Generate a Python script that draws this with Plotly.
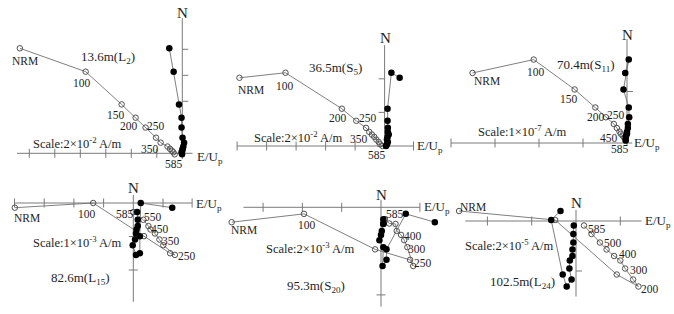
import plotly.graph_objects as go

W, H = 674, 314
FONT = "'Times New Roman', 'Liberation Serif', 'DejaVu Serif', serif"

# ---------------- data (values in scale-tick units) ----------------
# Panel 1: 13.6 m (L2)
L2_steps = ["NRM", "100", "150", "200", "250", "300", "350", "400", "450", "500", "550", "585"]
L2_east  = [-6.37, -3.79, -2.38, -1.83, -1.44, -1.03, -0.85, -0.58, -0.48, -0.41, -0.35, -0.30]
L2_north = [4.04, 3.14, 1.88, 1.37, 0.99, 0.60, 0.41, 0.26, 0.17, 0.10, 0.04, -0.04]
L2_up    = [-0.51, -0.34, -0.13, -0.03, -0.03, 0.01, 0.07, 0.04, 0.01, 0.00, -0.03, -0.01]

# Panel 2: 36.5 m (S5)
S5_steps = ["NRM", "100", "200", "250", "300", "350", "400", "450", "500", "530", "560", "585"]
S5_east  = [-4.92, -3.36, -1.45, -0.96, -0.63, -0.52, -0.43, -0.35, -0.28, -0.20, -0.15, -0.07]
S5_north = [2.03, 2.18, 1.11, 0.75, 0.54, 0.42, 0.34, 0.27, 0.19, 0.12, 0.05, 0.00]
S5_up    = [0.51, 0.23, 0.10, 0.10, 0.11, 0.11, 0.14, 0.10, 0.08, 0.11, 0.08, 0.05]

# Panel 3: 70.4 m (S11)
S11_steps = ["NRM", "100", "150", "200", "250", "300", "350", "400", "450", "500", "550", "585"]
S11_east  = [-3.51, -2.12, -1.19, -0.72, -0.48, -0.30, -0.23, -0.17, -0.14, -0.10, -0.06, -0.03]
S11_north = [1.36, 1.62, 1.04, 0.69, 0.50, 0.37, 0.29, 0.22, 0.18, 0.14, 0.10, 0.05]
S11_up    = [-0.04, 0.04, -0.08, 0.04, 0.05, 0.02, 0.02, 0.00, 0.00, -0.02, -0.03, -0.03]

# Panel 4: 82.6 m (L15)
L15_steps = ["NRM", "100", "150", "200", "250", "300", "350", "400", "450", "500", "550", "585"]
L15_east  = [-3.99, -1.35, 0.36, 1.24, 1.40, 1.01, 0.88, 0.73, 0.58, 0.51, 0.34, 0.00]
L15_north = [-0.14, 0.00, -0.99, -1.50, -1.55, -1.26, -1.09, -0.91, -0.79, -0.69, -0.50, -0.27]
L15_up    = [1.31, 0.25, 0.22, 0.22, 0.09, -0.02, 0.06, 0.09, 0.11, 0.15, 0.15, 0.13]

# Panel 5: 95.3 m (S20)
S20_steps = ["NRM", "100", "150", "200", "250", "300", "350", "400", "450", "500", "550", "585"]
S20_east  = [-3.80, -1.96, -0.15, 0.74, 0.82, 0.67, 0.59, 0.51, 0.40, 0.37, 0.21, 0.10]
S20_north = [-0.34, -0.15, -0.96, -1.20, -1.34, -0.91, -0.75, -0.63, -0.54, -0.38, -0.37, -0.27]
S20_up    = [1.37, 0.63, 0.14, 0.14, 0.04, 0.06, -0.04, 0.00, 0.02, 0.06, 0.06, 0.06]

# Panel 6: 102.5 m (L24)
L24_steps = ["NRM", "100", "150", "200", "250", "300", "350", "400", "450", "500", "550", "585"]
L24_east  = [-2.64, -0.47, 0.92, 1.41, 1.29, 1.11, 1.00, 0.86, 0.69, 0.54, 0.35, 0.18]
L24_north = [0.20, 0.02, -1.07, -1.31, -1.17, -0.95, -0.79, -0.70, -0.57, -0.43, -0.26, -0.09]
L24_up    = [-0.35, -0.56, -0.30, -0.21, -0.10, -0.15, -0.14, -0.08, -0.08, -0.06, -0.06, -0.05]

titles = ["13.6m(L<sub>2</sub>)", "36.5m(S<sub>5</sub>)", "70.4m(S<sub>11</sub>)",
          "82.6m(L<sub>15</sub>)", "95.3m(S<sub>20</sub>)", "102.5m(L<sub>24</sub>)"]
scales = ["Scale:2×10<sup>-2</sup> A/m", "Scale:2×10<sup>-2</sup> A/m", "Scale:1×10<sup>-7</sup> A/m",
          "Scale:1×10<sup>-3</sup> A/m", "Scale:2×10<sup>-3</sup> A/m", "Scale:2×10<sup>-5</sup> A/m"]

data = [
    (L2_steps, L2_east, L2_north, L2_up),
    (S5_steps, S5_east, S5_north, S5_up),
    (S11_steps, S11_east, S11_north, S11_up),
    (L15_steps, L15_east, L15_north, L15_up),
    (S20_steps, S20_east, S20_north, S20_up),
    (L24_steps, L24_east, L24_north, L24_up),
]

# ---------------- layout geometry (pixels) ----------------
SPECS = [
    dict(box=(0, 0, 225, 170), origin=(182.3, 153.3), sx=25.5, sy=26.0,
         hline=(-6.48, 0.40), hticks=[-6, -5, -4, -3, -2, -1], endbar=False,
         vline=(-0.22, 5.2), vticks=[2, 3, 4], vside="right",
         N=(182.3, 13), EU=(195, 157), title=(107.5, 58), scale=(77, 143),
         labels={"NRM": (5, 13), "100": (-4, 11), "150": (-6, 11), "200": (-7, 8),
                 "250": (10, -2), "350": (-11, 6), "585": (-1, 10)}),
    dict(box=(225, 0, 445, 170), origin=(384.6, 146.0), sx=29.5, sy=33.6,
         hline=(-5.0, 0.98), hticks=[-5, -4, -3, -2, -1], endbar=True,
         vline=(-0.08, 3.0), vticks=[1, 2], vside="left",
         N=(385, 37.5), EU=(415, 146), title=(335, 68.3), scale=(298, 137.3),
         labels={"NRM": (12, 12), "100": (0, 13), "200": (-4, 9), "250": (12, -3),
                 "350": (-10, 7), "585": (-6, 9)}),
    dict(box=(445, 0, 674, 170), origin=(627.0, 143.0), sx=44.0, sy=51.5,
         hline=(-4.0, 0.12), hticks=[-4, -3, -2, -1], endbar=False,
         vline=(-0.06, 2.02), vticks=[1], vside="right",
         N=(627.7, 34.5), EU=(632, 143), title=(586, 65), scale=(522, 131),
         labels={"NRM": (14, 8), "100": (2, 12), "150": (-6, 10), "200": (1, 10),
                 "250": (10, -2), "450": (-12, 4), "585": (-6, 9)}),
    dict(box=(0, 170, 225, 314), origin=(133.3, 203.0), sx=29.7, sy=33.5,
         hline=(-4.0, 1.98), hticks=[-4, -3, -2, -1, 1], endbar=True,
         vline=(0.24, -2.95), vticks=[-1, -2], vside="both",
         N=(133.3, 188), EU=(194, 204), title=(80, 278.3), scale=(77.5, 241.7),
         labels={"NRM": (12, 10), "100": (-6, 11), "585": (-8, 2), "550": (10, -3),
                 "450": (9, 0), "350": (12, 1), "250": (12, 1)}),
    dict(box=(225, 170, 445, 314), origin=(381.0, 207.3), sx=39.3, sy=43.8,
         hline=(-3.5, 0.99), hticks=[-3, -2, -1], endbar=True,
         vline=(0.17, -2.27), vticks=[-2], vside="both",
         N=(381, 195), EU=(421.5, 207), title=(316, 286), scale=(310, 248.3),
         labels={"NRM": (12, 8), "100": (3, 11), "585": (10, -5), "400": (12, 1),
                 "300": (10, 2), "250": (10, -3)}),
    dict(box=(445, 170, 674, 314), origin=(576.0, 221.0), sx=44.3, sy=50.0,
         hline=(-2.5, 1.48), hticks=[-2, -1, 1], endbar=False,
         vline=(0.22, -1.51), vticks=[-1], vside="right",
         N=(576, 203), EU=(643, 221), title=(522, 282.7), scale=(509, 245),
         labels={"NRM": (14, -4), "585": (13, 3), "500": (13, 0), "400": (14, -2),
                 "300": (14, 1), "200": (12, 2)}),
]

LINE_C = "#707070"
AXIS_C = "#7a7a7a"
TXT_C = "#1e1e1e"
TICK = 4.5  # px half-length

fig = go.Figure()
annotations = []


def paper(px, py):
    return px / W, 1 - py / H


for i, (sp, (steps, east, north, up)) in enumerate(zip(SPECS, data)):
    sfx = "" if i == 0 else str(i + 1)
    xa, ya = "x" + sfx, "y" + sfx
    x0, y0, x1, y1 = sp["box"]
    ox, oy = sp["origin"]
    sx, sy = sp["sx"], sp["sy"]
    fig.update_layout(**{
        "xaxis" + sfx: dict(domain=[x0 / W, x1 / W], range=[(x0 - ox) / sx, (x1 - ox) / sx],
                            visible=False, anchor=ya, fixedrange=True),
        "yaxis" + sfx: dict(domain=[1 - y1 / H, 1 - y0 / H], range=[(oy - y1) / sy, (oy - y0) / sy],
                            visible=False, anchor=xa, fixedrange=True),
    })

    # axes cross
    h0, h1 = sp["hline"]
    v0, v1 = sp["vline"]
    ax_x = [h0, h1, None, 0, 0]
    ax_y = [0, 0, None, v0, v1]
    hts = list(sp["hticks"]) + ([h1] if sp["endbar"] else [])
    for t in hts:
        ax_x += [None, t, t]
        ax_y += [None, -TICK / sy, TICK / sy]
    for t in sp["vticks"]:
        if sp["vside"] == "right":
            a, b = 0, 6 / sx
        elif sp["vside"] == "left":
            a, b = -6 / sx, 0
        else:
            a, b = -TICK / sx, TICK / sx
        ax_x += [None, a, b]
        ax_y += [None, t, t]
    fig.add_trace(go.Scatter(x=ax_x, y=ax_y, xaxis=xa, yaxis=ya, mode="lines",
                             line=dict(color=AXIS_C, width=1), hoverinfo="skip", cliponaxis=False))

    # horizontal projection (open circles)
    fig.add_trace(go.Scatter(x=east, y=north, xaxis=xa, yaxis=ya, mode="lines+markers",
                             line=dict(color=LINE_C, width=0.9),
                             marker=dict(symbol="circle-open", size=5.5, color="#505050",
                                         line=dict(width=1, color="#505050")),
                             text=steps, cliponaxis=False))
    # vertical projection (filled circles)
    fig.add_trace(go.Scatter(x=up, y=north, xaxis=xa, yaxis=ya, mode="lines+markers",
                             line=dict(color=LINE_C, width=0.9),
                             marker=dict(symbol="circle", size=6.5, color="black"),
                             text=steps, cliponaxis=False))

    # step labels
    for st, (dx, dy) in sp["labels"].items():
        k = steps.index(st)
        annotations.append(dict(x=east[k], y=north[k], xref=xa, yref=ya, text=st,
                                showarrow=False, xshift=dx, yshift=-dy,
                                xanchor="center", yanchor="middle",
                                font=dict(family=FONT, size=11.5, color=TXT_C)))

    nx, ny = paper(*sp["N"])
    annotations.append(dict(x=nx, y=ny, xref="paper", yref="paper", text="N", showarrow=False,
                            xanchor="center", yanchor="middle",
                            font=dict(family=FONT, size=15, color=TXT_C)))
    ex, ey = paper(*sp["EU"])
    annotations.append(dict(x=ex, y=ey, xref="paper", yref="paper", text="E/U<sub>p</sub>",
                            showarrow=False, xanchor="left", yanchor="middle",
                            font=dict(family=FONT, size=13, color=TXT_C)))
    tx, ty = paper(*sp["title"])
    annotations.append(dict(x=tx, y=ty, xref="paper", yref="paper", text=titles[i],
                            showarrow=False, xanchor="center", yanchor="middle",
                            font=dict(family=FONT, size=13, color=TXT_C)))
    cx, cy = paper(*sp["scale"])
    annotations.append(dict(x=cx, y=cy, xref="paper", yref="paper", text=scales[i],
                            showarrow=False, xanchor="center", yanchor="middle",
                            font=dict(family=FONT, size=12.5, color=TXT_C)))

fig.update_layout(width=W, height=H, margin=dict(l=0, r=0, t=0, b=0),
                  paper_bgcolor="white", plot_bgcolor="rgba(0,0,0,0)",
                  font=dict(family=FONT),
                  showlegend=False, annotations=annotations)

fig.write_html("out.html")
